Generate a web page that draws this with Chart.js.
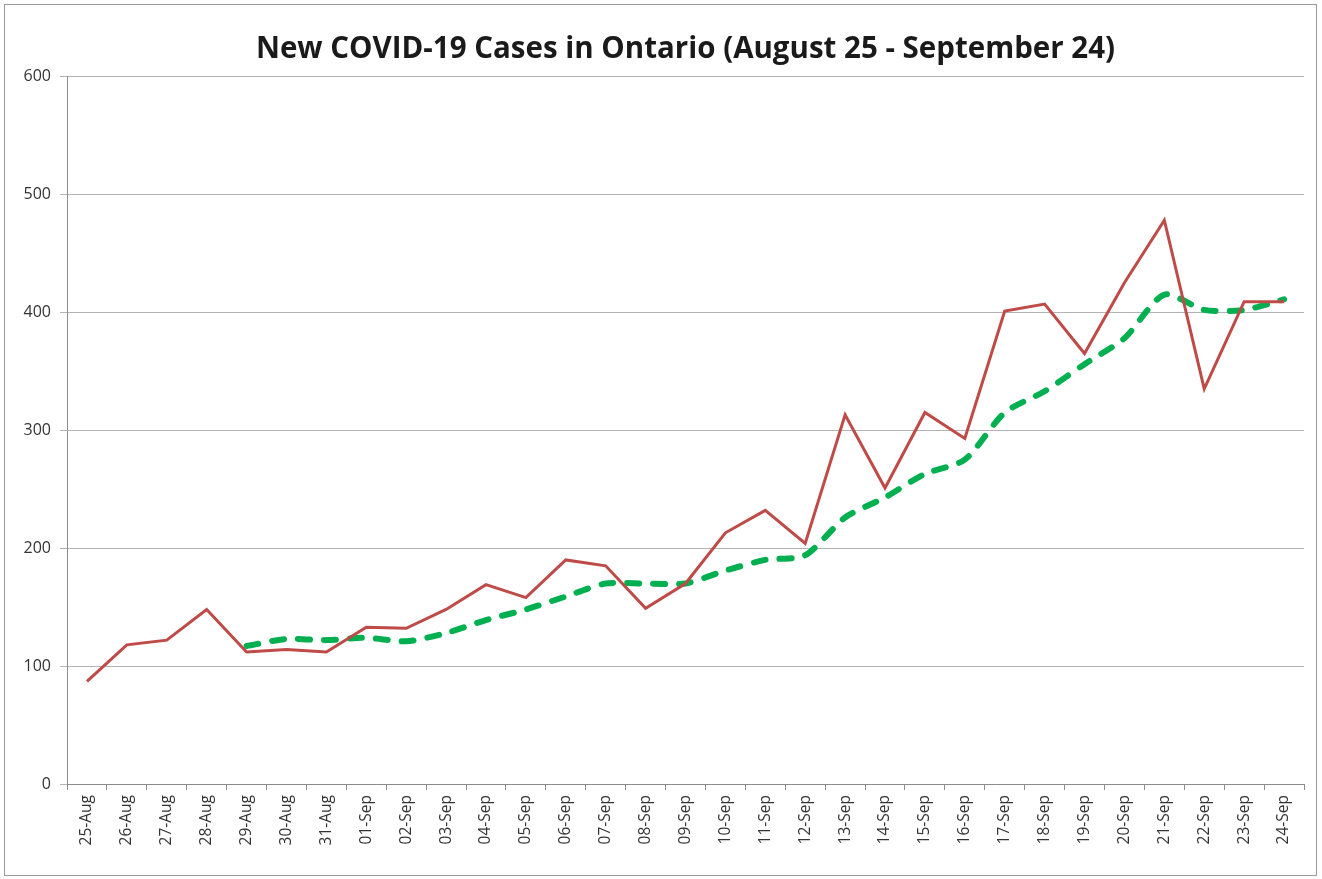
<!DOCTYPE html>
<html lang="en">
<head>
    <meta charset="UTF-8">
    <title>New COVID-19 Cases in Ontario</title>
    <script src="https://cdn.jsdelivr.net/npm/chart.js"></script>
    <style>
        body { margin: 0; background: #fff; }
        #wrap { position: absolute; left: 0; top: 0; width: 1322px; height: 879px; }
    </style>
</head>
<body>
<div id="wrap"><canvas id="casesChart" width="1322" height="879"></canvas></div>
<script>
    const days = ['25-Aug','26-Aug','27-Aug','28-Aug','29-Aug','30-Aug','31-Aug',
        '01-Sep','02-Sep','03-Sep','04-Sep','05-Sep','06-Sep','07-Sep','08-Sep','09-Sep',
        '10-Sep','11-Sep','12-Sep','13-Sep','14-Sep','15-Sep','16-Sep','17-Sep','18-Sep',
        '19-Sep','20-Sep','21-Sep','22-Sep','23-Sep','24-Sep'];
    const dailyCases = [87, 118, 122, 148, 112, 114, 112, 133, 132, 148, 169, 158, 190, 185,
        149, 170, 213, 232, 204, 313, 251, 315, 293, 401, 407, 365, 425, 478, 335, 409, 409];
    const rollingAvg = [null, null, null, null, 117, 123, 122, 124, 121, 128, 139, 148, 159, 170,
        170, 170, 181, 190, 194, 226, 243, 263, 275, 315, 333, 356, 378, 415, 402, 402, 411];
    const yTicks = [0, 100, 200, 300, 400, 500, 600];

    const framePlugin = {
        id: 'frame',
        beforeDraw(chart) {
            const c = chart.ctx;
            c.save();
            c.fillStyle = '#fff';
            c.fillRect(0, 0, chart.width, chart.height);
            c.strokeStyle = '#9a9a9a';
            c.lineWidth = 1;
            c.strokeRect(4.5, 4.5, 1312, 871);
            c.restore();
        }
    };

    new Chart(document.getElementById('casesChart').getContext('2d'), {
        type: 'line',
        data: {
            labels: days,
            datasets: [
                {
                    data: dailyCases,
                    borderColor: '#be4b48',
                    borderWidth: 3,
                    pointRadius: 0,
                    tension: 0
                },
                {
                    data: rollingAvg,
                    borderColor: '#00b050',
                    borderWidth: 6,
                    borderDash: [12, 14],
                    borderCapStyle: 'round',
                    pointRadius: 0,
                    tension: 0.25
                }
            ]
        },
        options: {
            responsive: false,
            animation: false,
            layout: { padding: { left: 10, right: 18, top: 0, bottom: 0 } },
            plugins: {
                legend: { display: false },
                tooltip: { enabled: false },
                title: {
                    display: true,
                    fullSize: false,
                    text: 'New COVID-19 Cases in Ontario (August 25 - September 24)',
                    color: '#1a1a1a',
                    font: { family: 'Open Sans', size: 29.5, weight: 'bold', lineHeight: 1.2 },
                    padding: { top: 32, bottom: 9 }
                }
            },
            scales: {
                x: {
                    offset: true,
                    grid: { offset: true, drawOnChartArea: false, color: '#8c8c8c', tickLength: 6 },
                    border: { color: '#8c8c8c' },
                    ticks: {
                        minRotation: 90, maxRotation: 90, autoSkip: false,
                        color: '#333', padding: 5,
                        font: { family: 'Open Sans', size: 15.5 }
                    },
                    afterFit(scale) { scale.height = 95; }
                },
                y: {
                    min: 0, max: 600,
                    afterBuildTicks(scale) { scale.ticks = yTicks.map(v => ({ value: v })); },
                    grid: { color: '#b4b4b4', tickLength: 7 },
                    border: { color: '#8c8c8c' },
                    ticks: {
                        color: '#333', padding: 9,
                        font: { family: 'Open Sans', size: 16 }
                    },
                    afterFit(scale) { scale.width = 57; }
                }
            }
        },
        plugins: [framePlugin]
    });
</script>
</body>
</html>
